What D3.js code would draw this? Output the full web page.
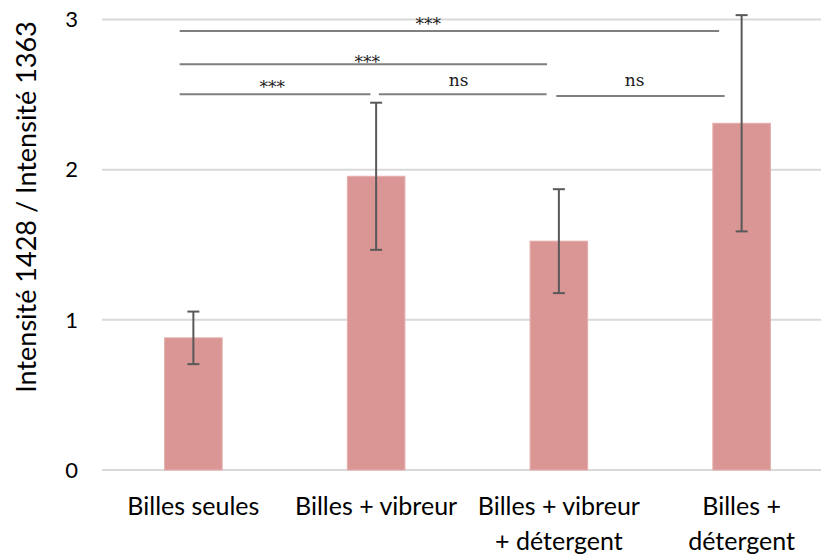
<!DOCTYPE html>
<html>
<head>
<meta charset="utf-8">
<script src="https://cdn.jsdelivr.net/npm/d3@7"></script>
<style>
  body { margin: 0; background: #fff; }
  svg { display: block; }
</style>
</head>
<body>
<div id="chart"></div>
<script>
const width = 821;
const height = 556;

// data
const categories = ["Billes seules", "Billes + vibreur", "Billes + vibreur\n+ détergent", "Billes +\ndétergent"];
const means = [0.88, 1.956, 1.524, 2.309];
const errors = [0.175, 0.49, 0.346, 0.72];
const yTicks = [0, 1, 2, 3];

// significance bars: from / to in category index units, y in value units
const sigLines = [
  {from: -0.075, to: 2.877, y: 2.923},
  {from: -0.075, to: 1.935, y: 2.702},
  {from: -0.075, to: 0.969, y: 2.502},
  {from: 1.015, to: 1.933, y: 2.502},
  {from: 1.986, to: 2.907, y: 2.49}
];
const sigLabels = [
  {text: "***", x: 1.285, y: 2.99},
  {text: "***", x: 0.951, y: 2.742},
  {text: "***", x: 0.432, y: 2.575},
  {text: "ns", x: 1.451, y: 2.584},
  {text: "ns", x: 2.414, y: 2.584}
];

const margins = {top: 19.5, right: -12, bottom: 86, left: 102};

const svg = d3.select("#chart")
  .append("svg")
  .attr("width", width)
  .attr("height", height);

const xScale = d3.scaleBand()
  .domain(categories)
  .range([margins.left, width - margins.right])
  .paddingInner(0.685)
  .paddingOuter(0.3425);

const yScale = d3.scaleLinear()
  .domain([0, 3])
  .range([height - margins.bottom, margins.top]);

// centre of a (fractional) category index
const xIdx = d3.scaleLinear()
  .domain([0, categories.length - 1])
  .range([xScale(categories[0]) + xScale.bandwidth() / 2,
          xScale(categories[categories.length - 1]) + xScale.bandwidth() / 2]);

// gridlines
svg.append("g")
  .selectAll("line")
  .data(yTicks)
  .join("line")
    .attr("x1", margins.left)
    .attr("x2", width)
    .attr("y1", d => yScale(d))
    .attr("y2", d => yScale(d))
    .attr("stroke", "#d9d9d9")
    .attr("stroke-width", 2);

// y tick labels
svg.append("g")
  .selectAll("text")
  .data(yTicks)
  .join("text")
    .attr("x", 78)
    .attr("y", d => yScale(d))
    .attr("dy", "0.35em")
    .attr("text-anchor", "end")
    .attr("font-family", "Lato, 'Open Sans', sans-serif")
    .attr("font-size", "22px")
    .attr("fill", "#000")
    .text(d => d);

// y title
svg.append("text")
  .attr("transform", "translate(27,207) rotate(-90)")
  .attr("dy", "0.35em")
  .attr("text-anchor", "middle")
  .attr("font-family", "Lato, 'Open Sans', sans-serif")
  .attr("font-size", "27px")
  .attr("fill", "#000")
  .text("Intensité 1428 / Intensité 1363");

// bars
svg.append("g")
  .selectAll("rect")
  .data(categories)
  .join("rect")
    .attr("x", d => xScale(d))
    .attr("y", (d, i) => yScale(means[i]))
    .attr("width", xScale.bandwidth())
    .attr("height", (d, i) => yScale(0) - yScale(means[i]))
    .attr("fill", "#d99694")
    .attr("stroke", "#e4aeac")
    .attr("stroke-width", 1);

// error bars
const errG = svg.append("g")
  .attr("stroke", "#595959")
  .attr("stroke-width", 2);

categories.forEach(function (c, i) {
  const cx = xScale(c) + xScale.bandwidth() / 2;
  const top = yScale(means[i] + errors[i]);
  const bot = yScale(means[i] - errors[i]);
  errG.append("line").attr("x1", cx).attr("x2", cx).attr("y1", top).attr("y2", bot);
  errG.append("line").attr("x1", cx - 6).attr("x2", cx + 6).attr("y1", top).attr("y2", top);
  errG.append("line").attr("x1", cx - 6).attr("x2", cx + 6).attr("y1", bot).attr("y2", bot);
});

// x labels
const xLabels = svg.append("g")
  .selectAll("text")
  .data(categories)
  .join("text")
    .attr("x", d => xScale(d) + xScale.bandwidth() / 2)
    .attr("y", 515)
    .attr("text-anchor", "middle")
    .attr("font-family", "Lato, 'Open Sans', sans-serif")
    .attr("font-size", "25px")
    .attr("fill", "#000");

xLabels.selectAll("tspan")
  .data(d => d.split("\n"))
  .join("tspan")
    .attr("x", function () { return d3.select(this.parentNode).attr("x"); })
    .attr("dy", (d, i) => i === 0 ? 0 : 35)
    .text(d => d);

// significance lines
svg.append("g")
  .selectAll("line")
  .data(sigLines)
  .join("line")
    .attr("x1", d => xIdx(d.from))
    .attr("x2", d => xIdx(d.to))
    .attr("y1", d => yScale(d.y))
    .attr("y2", d => yScale(d.y))
    .attr("stroke", "#7f7f7f")
    .attr("stroke-width", 2);

svg.append("g")
  .selectAll("text")
  .data(sigLabels)
  .join("text")
    .attr("x", d => xIdx(d.x))
    .attr("y", d => yScale(d.y))
    .attr("dy", d => d.text === "ns" ? "0.26em" : "0.55em")
    .attr("text-anchor", "middle")
    .attr("font-family", "'DejaVu Serif', 'Liberation Serif', serif")
    .attr("font-size", "17px")
    .attr("fill", "#1a1a1a")
    .text(d => d.text);
</script>
</body>
</html>
